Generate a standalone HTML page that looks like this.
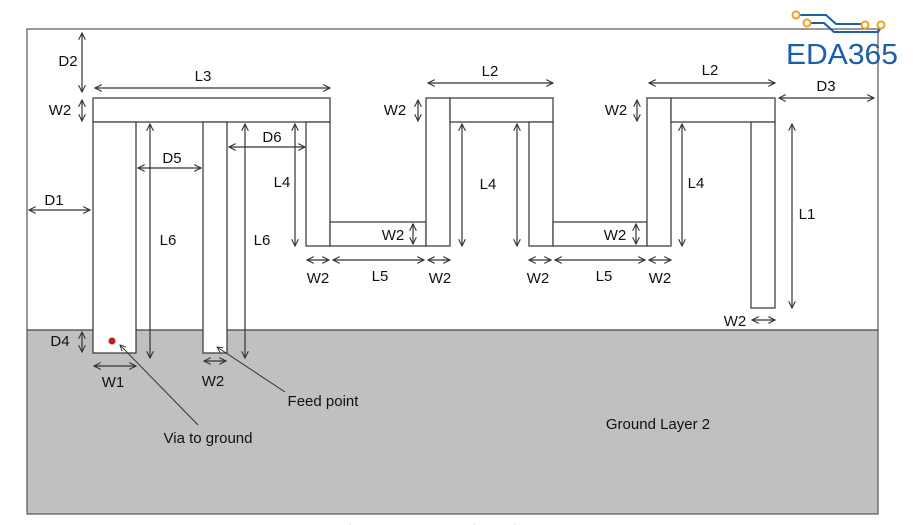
<!DOCTYPE html>
<html><head><meta charset="utf-8"><style>
html,body{margin:0;padding:0;background:#fff;}
svg{display:block;font-family:"Liberation Sans",Arial,sans-serif;}
</style></head><body>
<svg width="913" height="525" viewBox="0 0 913 525" xmlns="http://www.w3.org/2000/svg">
<defs>
<marker id="a" viewBox="0 0 10 10" refX="9" refY="5" markerWidth="7" markerHeight="7" orient="auto-start-reverse"><path d="M1,1 L9,5 L1,9" fill="none" stroke="#333" stroke-width="1.3"/></marker>
</defs>
<rect x="0" y="0" width="913" height="525" fill="#fff"/>
<rect x="27" y="330" width="851" height="184" fill="#c0c0c0"/>
<rect x="27" y="29" width="851" height="485" fill="none" stroke="#555" stroke-width="1.2"/>
<line x1="27" y1="330" x2="878" y2="330" stroke="#444" stroke-width="1.2"/>
<g fill="#fff" stroke="#333" stroke-width="1.2">
<rect x="93" y="98" width="237" height="24"/>
<rect x="93" y="122" width="43" height="231"/>
<rect x="203" y="122" width="24" height="231"/>
<rect x="306" y="122" width="24" height="124"/>
<rect x="330" y="222" width="96" height="24"/>
<rect x="426" y="98" width="24" height="148"/>
<rect x="450" y="98" width="103" height="24"/>
<rect x="529" y="122" width="24" height="124"/>
<rect x="553" y="222" width="94" height="24"/>
<rect x="647" y="98" width="24" height="148"/>
<rect x="671" y="98" width="104" height="24"/>
<rect x="751" y="122" width="24" height="186"/>
</g>
<circle cx="112" cy="341" r="3.5" fill="#b22"/>
<g stroke="#333" stroke-width="1.2" marker-start="url(#a)" marker-end="url(#a)" fill="none">
<line x1="82" y1="33" x2="82" y2="92"/>
<line x1="95" y1="88" x2="330" y2="88"/>
<line x1="82" y1="100" x2="82" y2="121"/>
<line x1="29" y1="210" x2="90" y2="210"/>
<line x1="138" y1="168" x2="201" y2="168"/>
<line x1="150" y1="124" x2="150" y2="358"/>
<line x1="245" y1="124" x2="245" y2="358"/>
<line x1="229" y1="147" x2="305" y2="147"/>
<line x1="295" y1="124" x2="295" y2="246"/>
<line x1="307" y1="260" x2="329" y2="260"/>
<line x1="333" y1="260" x2="424" y2="260"/>
<line x1="428" y1="260" x2="450" y2="260"/>
<line x1="529" y1="260" x2="551" y2="260"/>
<line x1="555" y1="260" x2="645" y2="260"/>
<line x1="649" y1="260" x2="671" y2="260"/>
<line x1="413" y1="224" x2="413" y2="244"/>
<line x1="636" y1="224" x2="636" y2="244"/>
<line x1="462" y1="124" x2="462" y2="246"/>
<line x1="517" y1="124" x2="517" y2="246"/>
<line x1="682" y1="124" x2="682" y2="246"/>
<line x1="428" y1="83" x2="553" y2="83"/>
<line x1="649" y1="83" x2="775" y2="83"/>
<line x1="779" y1="98" x2="874" y2="98"/>
<line x1="418" y1="100" x2="418" y2="121"/>
<line x1="637" y1="100" x2="637" y2="121"/>
<line x1="792" y1="124" x2="792" y2="308"/>
<line x1="752" y1="320" x2="775" y2="320"/>
<line x1="82" y1="332" x2="82" y2="352"/>
<line x1="94" y1="366" x2="136" y2="366"/>
<line x1="204" y1="361" x2="226" y2="361"/>
</g>
<g stroke="#333" stroke-width="1" fill="none">
<line x1="285" y1="392" x2="217" y2="347" marker-end="url(#a)"/>
<line x1="198" y1="425" x2="120" y2="345" marker-end="url(#a)"/>
</g>
<g font-size="15" fill="#111" text-anchor="middle">
<text x="68" y="66">D2</text>
<text x="203" y="81">L3</text>
<text x="60" y="115">W2</text>
<text x="54" y="205">D1</text>
<text x="172" y="163">D5</text>
<text x="272" y="142">D6</text>
<text x="168" y="245">L6</text>
<text x="262" y="245">L6</text>
<text x="282" y="187">L4</text>
<text x="318" y="283">W2</text>
<text x="380" y="281">L5</text>
<text x="440" y="283">W2</text>
<text x="538" y="283">W2</text>
<text x="604" y="281">L5</text>
<text x="660" y="283">W2</text>
<text x="393" y="240">W2</text>
<text x="615" y="240">W2</text>
<text x="488" y="189">L4</text>
<text x="696" y="188">L4</text>
<text x="490" y="76">L2</text>
<text x="710" y="75">L2</text>
<text x="826" y="91">D3</text>
<text x="395" y="115">W2</text>
<text x="616" y="115">W2</text>
<text x="807" y="219">L1</text>
<text x="735" y="326">W2</text>
<text x="60" y="346">D4</text>
<text x="113" y="387">W1</text>
<text x="213" y="386">W2</text>
<text x="323" y="406">Feed point</text>
<text x="208" y="443">Via to ground</text>
<text x="658" y="429">Ground Layer 2</text>
</g>
<text x="440" y="535" font-size="15" fill="#ddd" text-anchor="middle">Figure 1: Antenna Dimensions</text>
<g stroke="#1a5fa8" stroke-width="2" fill="none">
<polyline points="800,15 826,15 836,24 866,24"/>
<polyline points="808,23 824,23 834,32 878,32 882,26"/>
</g>
<g stroke="#f0a020" stroke-width="2" fill="#fff">
<circle cx="796" cy="15" r="3.5"/><circle cx="807" cy="23" r="3.5"/>
<circle cx="865" cy="25" r="3.5"/><circle cx="881" cy="25" r="3.5"/>
</g>
<text x="786" y="64" font-size="29" fill="#1a5fa8" textLength="112" lengthAdjust="spacingAndGlyphs">EDA365</text>
</svg>
</body></html>
